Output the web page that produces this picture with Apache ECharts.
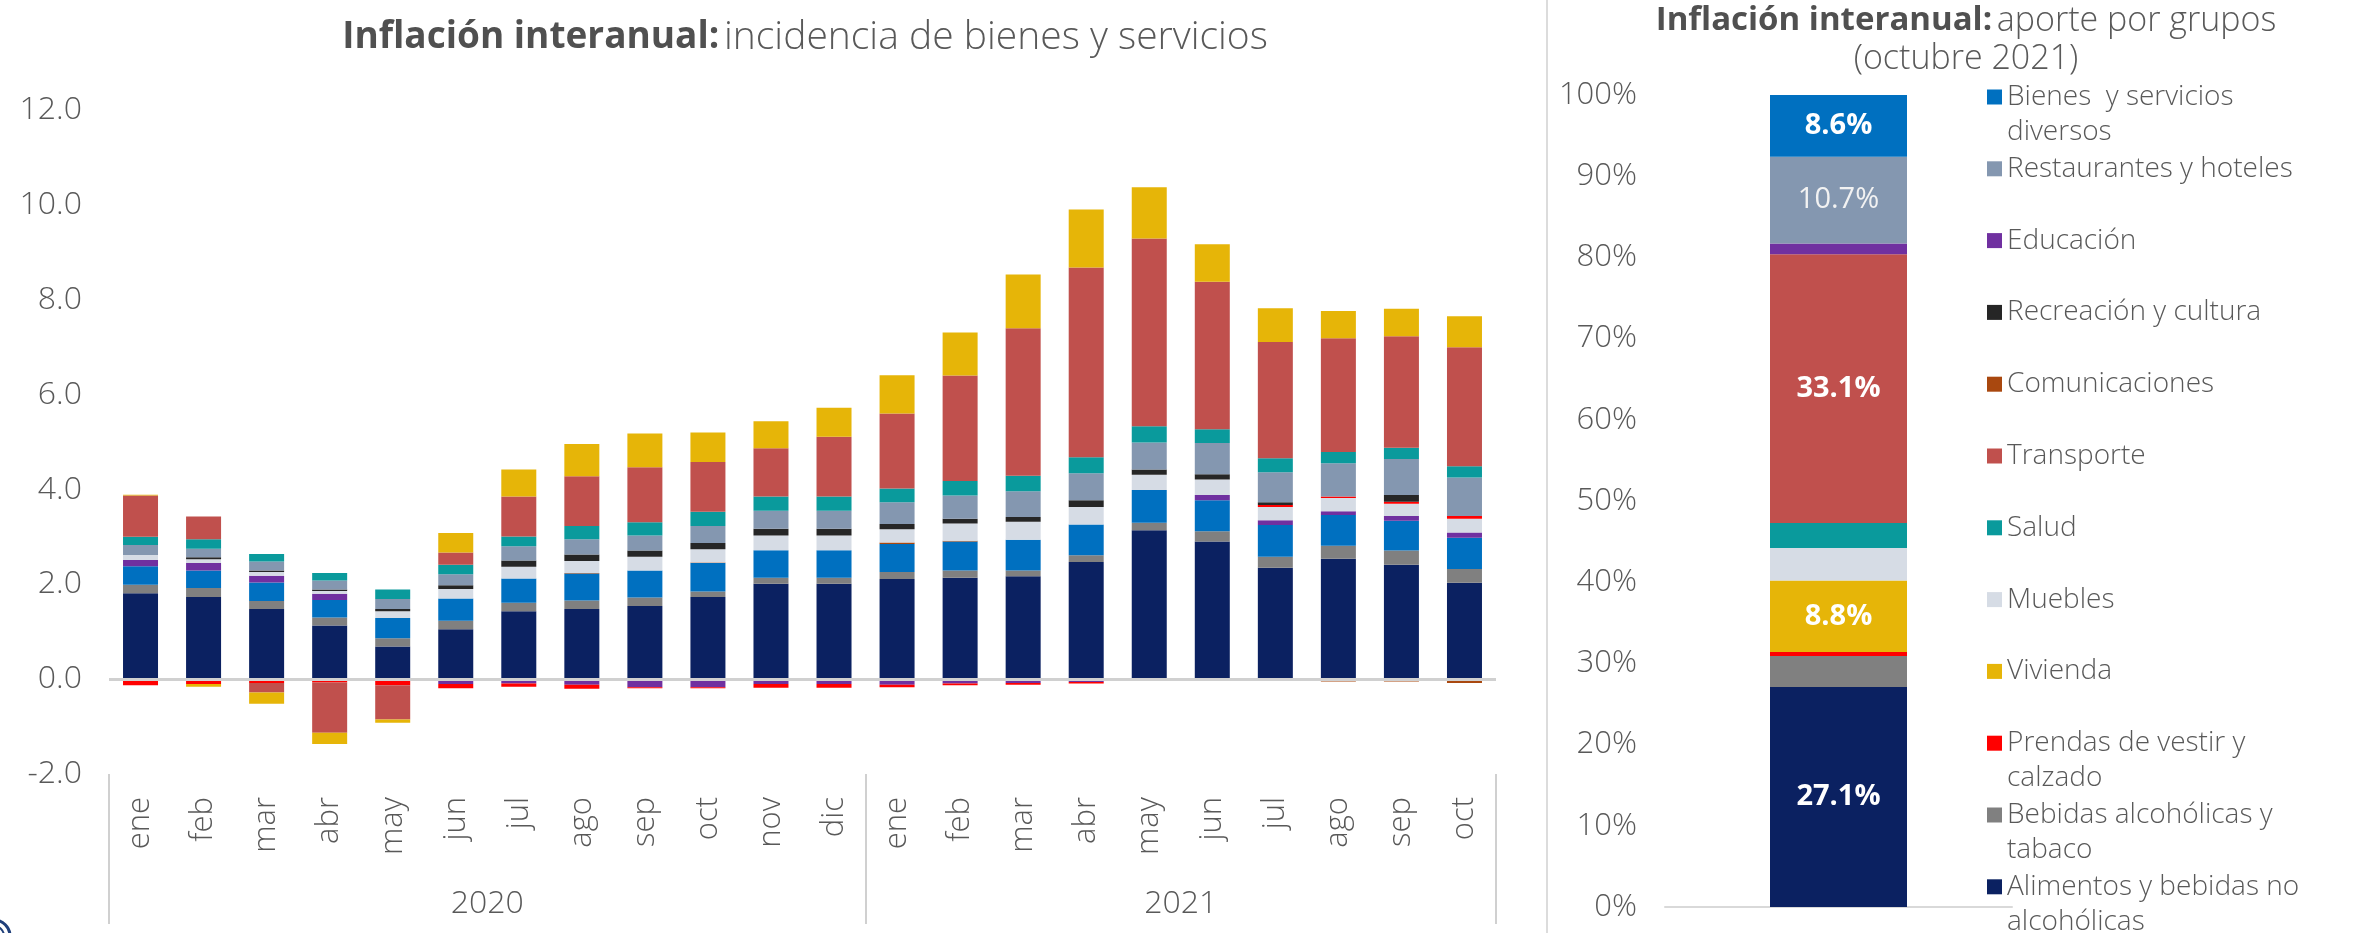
<!DOCTYPE html>
<html>
<head>
<meta charset="utf-8">
<script src="https://cdn.jsdelivr.net/npm/echarts@6/dist/echarts.min.js"></script>
<style>
  html, body { margin: 0; padding: 0; background: #fff; }
  #grafico { width: 2377px; height: 933px; }
</style>
</head>
<body>
<div id="grafico"></div>
<script>
// ----------------------- datos -----------------------
const meses = ['ene','feb','mar','abr','may','jun','jul','ago','sep','oct','nov','dic',
               'ene','feb','mar','abr','may','jun','jul','ago','sep','oct'];
const anios = ['2020', '2021'];
const mesesPorAnio = [12, 10];

// incidencia (puntos porcentuales) por grupo, orden alfabetico
const alimentos      = [1.81,1.73,1.48,1.13,0.69,1.05,1.43,1.48,1.54,1.73,2.01,2.01,2.11,2.14,2.17,2.47,3.14,2.90,2.35,2.54,2.41,2.03];
const bebidas        = [0.18,0.19,0.17,0.17,0.17,0.18,0.18,0.18,0.18,0.12,0.13,0.13,0.15,0.15,0.12,0.14,0.16,0.22,0.23,0.27,0.30,0.29];
const bienes         = [0.39,0.37,0.39,0.37,0.43,0.47,0.51,0.57,0.57,0.60,0.58,0.58,0.59,0.61,0.65,0.65,0.69,0.65,0.67,0.65,0.63,0.66];
const comunicaciones = [0,0,0,0,0,0,0,0.01,0,0.01,0,0,0.03,0.02,0,0,0,0,0,-0.05,-0.05,-0.08];
const educacion      = [0.13,0.16,0.14,0.13,0,-0.10,-0.09,-0.12,-0.17,-0.17,-0.10,-0.10,-0.12,-0.09,-0.08,-0.06,0,0.11,0.10,0.08,0.10,0.11];
const muebles        = [0.11,0.08,0.08,0.06,0.14,0.20,0.25,0.25,0.29,0.28,0.31,0.31,0.28,0.36,0.38,0.37,0.32,0.33,0.28,0.28,0.26,0.29];
const prendas        = [-0.13,-0.10,-0.08,-0.07,-0.13,-0.09,-0.07,-0.08,-0.02,-0.02,-0.08,-0.08,-0.05,-0.04,-0.04,-0.03,0,0,0.04,0.03,0.04,0.06];
const recreacion     = [0,0.04,0.03,0.03,0.05,0.08,0.13,0.14,0.13,0.13,0.14,0.14,0.11,0.10,0.10,0.14,0.11,0.11,0.06,0,0.14,0];
const restaurantes   = [0.21,0.18,0.19,0.19,0.21,0.23,0.30,0.32,0.32,0.36,0.38,0.38,0.46,0.49,0.54,0.57,0.57,0.66,0.63,0.70,0.76,0.81];
const salud          = [0.17,0.20,0.16,0.16,0.20,0.20,0.21,0.28,0.28,0.30,0.30,0.30,0.29,0.31,0.33,0.34,0.34,0.29,0.30,0.24,0.24,0.24];
const transporte     = [0.87,0.48,-0.20,-1.06,-0.72,0.26,0.84,1.05,1.16,1.05,1.02,1.26,1.58,2.22,3.11,4.00,3.96,3.11,2.45,2.40,2.35,2.51];
const vivienda       = [0.02,-0.06,-0.24,-0.24,-0.07,0.41,0.57,0.68,0.71,0.62,0.57,0.61,0.81,0.91,1.13,1.22,1.08,0.79,0.71,0.57,0.58,0.65];

// aporte por grupos, octubre 2021 (%), de abajo hacia arriba
const aporteGrupos  = ['Alimentos','Bebidas','Prendas','Vivienda','Muebles','Salud','Transporte','Comunicaciones','Recreacion','Educacion','Restaurantes','Bienes'];
const aporteValores = [27.1, 3.8, 0.5, 8.8, 4.0, 3.1, 33.1, -1.0, 0, 1.3, 10.7, 8.6];
const aporteEtiqueta = ['Alimentos','Vivienda','Transporte','Restaurantes','Bienes'];

const grupos = [
  { clave: 'Alimentos',      nombre: 'Alimentos y bebidas no alcohólicas', leyenda: 'Alimentos y bebidas no\nalcohólicas', color: '#0b2161', datos: alimentos },
  { clave: 'Bebidas',        nombre: 'Bebidas alcohólicas y tabaco',       leyenda: 'Bebidas alcohólicas y\ntabaco',        color: '#808080', datos: bebidas },
  { clave: 'Bienes',         nombre: 'Bienes y servicios diversos',        leyenda: 'Bienes  y servicios\ndiversos',        color: '#0070c0', datos: bienes },
  { clave: 'Comunicaciones', nombre: 'Comunicaciones',                     leyenda: 'Comunicaciones',                       color: '#a9480f', datos: comunicaciones },
  { clave: 'Educacion',      nombre: 'Educación',                          leyenda: 'Educación',                            color: '#7030a0', datos: educacion },
  { clave: 'Muebles',        nombre: 'Muebles',                            leyenda: 'Muebles',                              color: '#d6dce5', datos: muebles },
  { clave: 'Prendas',        nombre: 'Prendas de vestir y calzado',        leyenda: 'Prendas de vestir y\ncalzado',         color: '#ff0000', datos: prendas },
  { clave: 'Recreacion',     nombre: 'Recreación y cultura',               leyenda: 'Recreación y cultura',                 color: '#262626', datos: recreacion },
  { clave: 'Restaurantes',   nombre: 'Restaurantes y hoteles',             leyenda: 'Restaurantes y hoteles',               color: '#8497b0', datos: restaurantes },
  { clave: 'Salud',          nombre: 'Salud',                              leyenda: 'Salud',                                color: '#0a9a9c', datos: salud },
  { clave: 'Transporte',     nombre: 'Transporte',                         leyenda: 'Transporte',                           color: '#c0504d', datos: transporte },
  { clave: 'Vivienda',       nombre: 'Vivienda',                           leyenda: 'Vivienda',                             color: '#e6b508', datos: vivienda }
];
const porClave = {};
grupos.forEach(g => { porClave[g.clave] = g; });

// eje de años: 23 limites entre meses, etiqueta en el centro de cada año
const limites = new Array(meses.length + 1).fill('');
const cortes = [0];
const centros = [];
let acum = 0;
mesesPorAnio.forEach((n, i) => {
  centros.push(acum + n / 2);
  limites[acum + n / 2] = anios[i];
  acum += n;
  cortes.push(acum);
});

const FUENTE = "'Open Sans', 'DejaVu Sans', sans-serif";
const GRIS = '#595959';
const LIGERA = 300;

// ----------------------- series -----------------------
const seriesIncidencia = grupos.map((g, i) => {
  const s = {
    name: g.nombre,
    type: 'bar',
    stack: 'incidencia',
    xAxisIndex: 0,
    yAxisIndex: 0,
    barWidth: 35,
    itemStyle: { color: g.color },
    data: g.datos
  };
  if (i === grupos.length - 1) {
    s.markLine = {
      silent: true,
      symbol: 'none',
      label: { show: false },
      lineStyle: { color: '#d0d0d0', width: 3, type: 'solid' },
      data: [{ yAxis: 0 }]
    };
  }
  return s;
});

const seriesAporte = aporteGrupos.map((clave, i) => {
  const g = porClave[clave];
  const conEtiqueta = aporteEtiqueta.includes(clave);
  return {
    name: g.nombre,
    type: 'bar',
    stack: 'aporte',
    xAxisIndex: 2,
    yAxisIndex: 1,
    barWidth: 137,
    clip: true,
    itemStyle: { color: g.color },
    label: {
      show: conEtiqueta,
      position: 'inside',
      formatter: p => p.value.toFixed(1) + '%',
      color: clave === 'Restaurantes' ? '#f2f2f2' : '#ffffff',
      fontFamily: FUENTE,
      fontWeight: clave === 'Restaurantes' ? 'normal' : 'bold',
      fontSize: 29
    },
    data: [aporteValores[i]]
  };
});

// leyenda: una por grupo, separadas de forma uniforme
const LINEA = 35;
const leyendas = aporteGrupos.slice().reverse().map((clave, i) => {
  const g = porClave[clave];
  const dosLineas = g.leyenda.includes('\n');
  const centro = 97 + i * 71.8;
  return {
    orient: 'vertical',
    left: 1987,
    top: dosLineas ? centro - 1.5 * LINEA : centro - LINEA / 2,
    padding: 0,
    itemWidth: 15,
    itemHeight: 15,
    icon: 'rect',
    data: [g.nombre],
    formatter: () => dosLineas ? '\n' + g.leyenda : g.leyenda,
    textStyle: { fontFamily: FUENTE, fontSize: 28, fontWeight: LIGERA, color: GRIS, lineHeight: LINEA }
  };
});

// ----------------------- grafico -----------------------
const chart = echarts.init(document.getElementById('grafico'));

chart.setOption({
  animation: false,
  backgroundColor: '#ffffff',
  textStyle: { fontFamily: FUENTE },
  title: [
    {
      left: 800, top: 13, textAlign: 'center',
      text: '{b|Inflación interanual:} {n|incidencia de bienes y servicios}',
      textStyle: {
        rich: {
          b: { fontFamily: FUENTE, fontSize: 37, fontWeight: 'bold', color: '#505050' },
          n: { fontFamily: FUENTE, fontSize: 39, fontWeight: LIGERA, color: GRIS }
        }
      }
    },
    {
      left: 1961, top: -3, textAlign: 'center',
      text: '{b|Inflación interanual:} {n|aporte por grupos}\n{n|(octubre 2021)}',
      textStyle: {
        lineHeight: 38,
        rich: {
          b: { fontFamily: FUENTE, fontSize: 33, fontWeight: 'bold', color: '#505050', lineHeight: 38 },
          n: { fontFamily: FUENTE, fontSize: 34, fontWeight: LIGERA, color: GRIS, lineHeight: 38 }
        }
      }
    }
  ],
  legend: leyendas,
  grid: [
    { left: 109, right: 881, top: 110, bottom: 159 },
    { left: 1665, width: 347, top: 95, bottom: 26 }
  ],
  xAxis: [
    {
      gridIndex: 0, type: 'category', data: meses, position: 'bottom',
      axisLine: { show: false }, axisTick: { show: false },
      axisLabel: { rotate: 90, margin: 23, fontSize: 31, fontWeight: LIGERA, color: GRIS, fontFamily: FUENTE }
    },
    {
      gridIndex: 0, type: 'category', data: limites, boundaryGap: false, position: 'bottom',
      axisLine: { show: false },
      axisTick: {
        show: true, length: 150,
        interval: idx => cortes.includes(idx),
        lineStyle: { color: '#d0d0d0', width: 2 }
      },
      axisLabel: {
        interval: idx => centros.includes(idx),
        margin: 114, fontSize: 32, fontWeight: LIGERA, color: GRIS, fontFamily: FUENTE
      }
    },
    {
      gridIndex: 1, type: 'category', data: ['octubre 2021'],
      axisLine: { lineStyle: { color: '#d9d9d9', width: 2 } },
      axisTick: { show: false }, axisLabel: { show: false }
    }
  ],
  yAxis: [
    {
      gridIndex: 0, type: 'value', min: -2, max: 12, interval: 2,
      axisLine: { show: false }, axisTick: { show: false }, splitLine: { show: false },
      axisLabel: { formatter: v => v.toFixed(1), margin: 27, fontSize: 32, fontWeight: LIGERA, color: GRIS, fontFamily: FUENTE }
    },
    {
      gridIndex: 1, type: 'value', min: 0, max: 100, interval: 10,
      axisLine: { show: false }, axisTick: { show: false }, splitLine: { show: false },
      axisLabel: { formatter: '{value}%', margin: 28, fontSize: 31, fontWeight: LIGERA, color: GRIS, fontFamily: FUENTE }
    }
  ],
  graphic: [
    {
      type: 'line', silent: true,
      shape: { x1: 1547, y1: 0, x2: 1547, y2: 933 },
      style: { stroke: '#dcdcdc', lineWidth: 2 }
    },
    {
      type: 'circle', silent: true,
      shape: { cx: -6, cy: 936, r: 16 },
      style: { fill: 'none', stroke: '#1f3f7a', lineWidth: 3 }
    },
    {
      type: 'circle', silent: true,
      shape: { cx: -6, cy: 936, r: 10 },
      style: { fill: 'none', stroke: '#1f3f7a', lineWidth: 2 }
    }
  ],
  series: seriesIncidencia.concat(seriesAporte)
});

window.addEventListener('resize', () => chart.resize());
</script>
</body>
</html>
